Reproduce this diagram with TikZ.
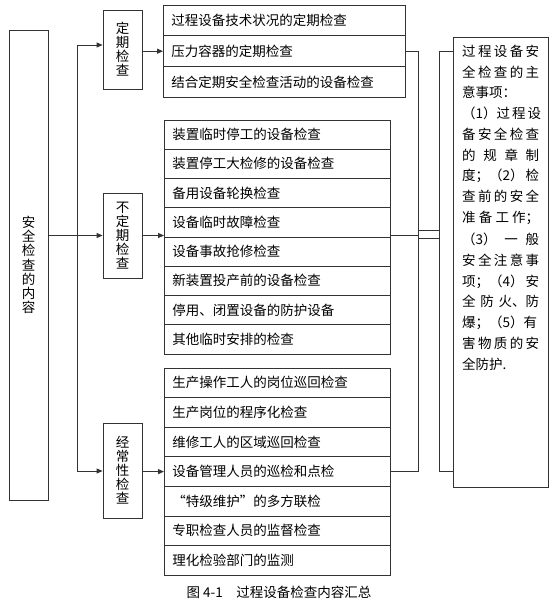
\documentclass[tikz,border=0pt]{standalone}
\usepackage{fontspec}
\setmainfont{Noto Sans CJK SC}
\usetikzlibrary{arrows.meta}
\definecolor{ink}{HTML}{333333}
\newcommand\jline[1]{\makebox[77pt][s]{#1}}

\begin{document}
\begin{tikzpicture}[x=1pt,y=-1pt,font=\fontsize{13.5}{15}\selectfont,
 cat/.style={draw=ink,line width=.8pt,inner sep=0pt,minimum width=39pt,align=center,font=\fontsize{13.5}{14}\selectfont},
 row/.style={draw=ink,line width=.8pt,inner xsep=8pt,inner ysep=0pt,align=left,anchor=west},
 flow/.style={-{Triangle[length=6pt,width=5pt]},draw=ink,line width=.8pt},
 link/.style={draw=ink,line width=.8pt}]
\path[use as bounding box] (0,0) rectangle (553,600);
\node[cat,minimum height=470pt,font=\fontsize{13.5}{14.2}\selectfont] (content) at (28.5,265)
 {安\\全\\检\\查\\的\\内\\容};
\node[cat,minimum height=79pt] (dq) at (122.5,49.5) {定\\期\\检\\查};
\node[cat,minimum height=85pt] (bdq) at (122.5,235.5) {不\\定\\期\\检\\查};
\node[cat,minimum height=95pt] (jcx) at (122.5,470.5) {经\\常\\性\\检\\查};
% item lists
\foreach \i/\t in {1/过程设备技术状况的定期检查,2/压力容器的定期检查,3/结合定期安全检查活动的设备检查}
 \node[row,text width=226pt,minimum height=30.7pt] (p\i) at (163,{20.5+30.7*(\i-1)}) {\t};
\foreach \i/\t in {1/装置临时停工的设备检查,2/装置停工大检修的设备检查,3/备用设备轮换检查,
 4/设备临时故障检查,5/设备事故抢修检查,6/新装置投产前的设备检查,7/停用、闭置设备的防护设备,8/其他临时安排的检查}
 \node[row,text width=210pt,minimum height=29.25pt] (u\i) at (164,{134.6+29.25*(\i-1)}) {\t};
\foreach \i/\t in {1/生产操作工人的岗位巡回检查,2/生产岗位的程序化检查,3/维修工人的区域巡回检查,
 4/设备管理人员的巡检和点检,5/“特级维护”的多方联检,6/专职检查人员的监督检查,7/理化检验部门的监测}
 \node[row,text width=210pt,minimum height=29.6pt] (c\i) at (164,{382.8+29.6*(\i-1)}) {\t};
\node[draw=ink,line width=.8pt,inner sep=0pt,minimum width=95pt,minimum height=450pt] (note) at (500.5,262) {};
\node[anchor=north west,align=left,inner sep=0pt,font=\fontsize{13.5}{20.7}\selectfont] (notetext) at (462,45)
 {\jline{过 程 设 备 安}\\\jline{全 检 查 的 主}\\意事项：\\\jline{（1）过 程 设}\\\jline{备 安 全 检 查}\\
 \jline{的 规 章 制}\\\jline{度；（2） 检}\\\jline{查 前 的 安 全}\\\jline{准 备 工 作；}\\[2pt]
 \jline{（3） 一 般}\\\jline{安 全 注 意 事}\\\jline{项；（4） 安}\\\jline{全 防 火、防}\\
 \jline{爆；（5）有}\\\jline{害 物 质 的 安}\\全防护.};
\node (caption) at (279,592) {图 4-1\quad 过程设备检查内容汇总};
% trunk and arrows
\coordinate (tt) at (77,45);
\coordinate (tb) at (77,471);
\draw[link] (tt) -- (tb);
\draw[flow] (tt) -- (tt -| dq.west);
\draw[flow] (content.east |- bdq) -- (bdq.west);
\draw[flow] (tb) -- (tb -| jcx.west);
\draw[flow] (dq.east |- p2) -- (p2.west);
\draw[flow] (bdq.east) -- (bdq.east -| u4.west);
\draw[flow] (jcx.east |- c4) -- (c4.west);
% joins to the note
\coordinate (sl) at (418,230);
\coordinate (sr) at (439,238);
\draw[link] (p2.east) -| (sl |- c4.east) -- (c4.east);
\draw[link] (bdq.east -| u4.east) -- (bdq.east -| sl);
\draw[link] (note.west |- p2) -| (sr |- c4) -- (note.west |- c4);
\draw[link] (sl) -- (sl -| sr);
\draw[link] (sl |- sr) -- (sr);
\end{tikzpicture}
\end{document}
